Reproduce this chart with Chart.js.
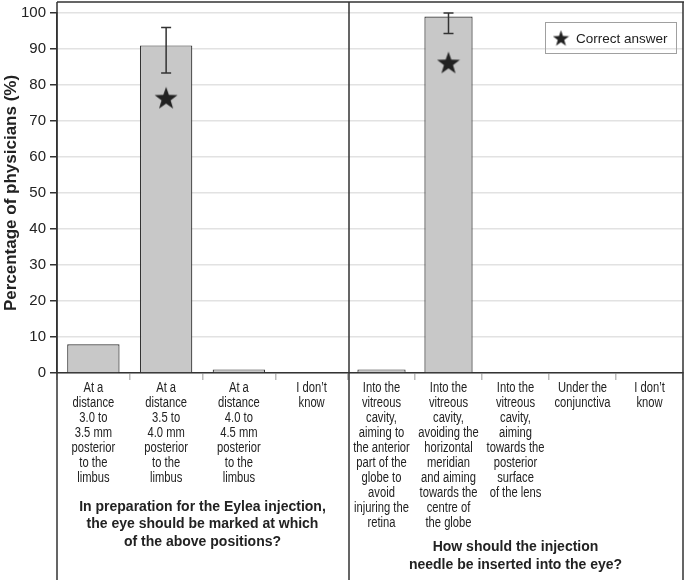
<!DOCTYPE html>
<html><head><meta charset="utf-8">
<script src="https://cdn.jsdelivr.net/npm/chart.js@4/dist/chart.umd.min.js"></script>
<style>html,body{margin:0;padding:0;background:#fff}#wrap{position:relative;width:685px;height:580px}canvas{position:absolute;top:0}</style>
</head><body>
<div id="wrap"><canvas id="a" width="348" height="580" style="left:0"></canvas><canvas id="b" width="337" height="580" style="left:348px"></canvas></div>
<script>
// ---- data ----
const catsLeft = [
  ["At a","distance","3.0 to","3.5 mm","posterior","to the","limbus"],
  ["At a","distance","3.5 to","4.0 mm","posterior","to the","limbus"],
  ["At a","distance","4.0 to","4.5 mm","posterior","to the","limbus"],
  ["I don\u2019t","know"]
];
const valuesLeft = [8, 91, 1, 0];
const errLowLeft = [null, 83.3, null, null];
const errHighLeft = [null, 96, null, null];
const starLeft = [null, 76.5, null, null];
const questionLeft = ["In preparation for the Eylea injection,","the eye should be marked at which","of the above positions?"];

const catsRight = [
  ["Into the","vitreous","cavity,","aiming to","the anterior","part of the","globe to","avoid","injuring the","retina"],
  ["Into the","vitreous","cavity,","avoiding the","horizontal","meridian","and aiming","towards the","centre of","the globe"],
  ["Into the","vitreous","cavity,","aiming","towards the","posterior","surface","of the lens"],
  ["Under the","conjunctiva"],
  ["I don\u2019t","know"]
];
const valuesRight = [1, 99, 0, 0, 0];
const errLowRight = [null, 94.3, null, null, null];
const errHighRight = [null, 100, null, null, null];
const starRight = [null, 86.3, null, null, null];
const questionRight = ["How should the injection","needle be inserted into the eye?"];

const yTicks = [0,10,20,30,40,50,60,70,80,90,100];
const yTitle = "Percentage of physicians (%)";
const legendLabel = "Correct answer";

// ---- styling ----
const DARK = '#333333', GRID = '#e2e2e2', TEXT = '#222222';
const SANS = '"Liberation Sans", Arial, sans-serif';
Chart.defaults.font.family = SANS;
Chart.defaults.color = TEXT;

function makeStar(size){
  const c = document.createElement('canvas'); c.width = size; c.height = size;
  const g = c.getContext('2d'); const cx = size/2, cy = size/2 + size*0.05;
  const R = size/2, r = R*0.4;
  g.beginPath();
  for(let i=0;i<10;i++){
    const ang = -Math.PI/2 + i*Math.PI/5; const rr = i%2===0?R:r;
    const x = cx + rr*Math.cos(ang), y = cy + rr*Math.sin(ang);
    i===0?g.moveTo(x,y):g.lineTo(x,y);
  }
  g.closePath(); g.fillStyle = '#222'; g.fill();
  return c;
}
const starImg = makeStar(24);
const starSmall = makeStar(17);

function panelPlugin(opts){
  return {
    id:'panel'+opts.id,
    afterDatasetsDraw(chart){
      const ctx = chart.ctx, y = chart.scales.y;
      const meta = chart.getDatasetMeta(0);
      ctx.save();
      ctx.strokeStyle = DARK; ctx.lineWidth = 1.5;
      opts.lo.forEach((lo,i)=>{
        if(lo==null) return;
        const x = meta.data[i].x, y1 = y.getPixelForValue(lo), y2 = y.getPixelForValue(opts.hi[i]);
        ctx.beginPath();
        ctx.moveTo(x,y1); ctx.lineTo(x,y2);
        ctx.moveTo(x-5,y1); ctx.lineTo(x+5,y1);
        ctx.moveTo(x-5,y2); ctx.lineTo(x+5,y2);
        ctx.stroke();
      });
      ctx.restore();
    },
    afterDraw(chart){
      const ctx = chart.ctx, ca = chart.chartArea, H = chart.height;
      const xs = chart.scales.x;
      ctx.save();
      ctx.strokeStyle = DARK; ctx.lineWidth = 1.5;
      ctx.beginPath();
      ctx.moveTo(opts.frameL, 2); ctx.lineTo(opts.frameR, 2);
      opts.verticals.forEach(v=>{ ctx.moveTo(v, 2); ctx.lineTo(v, H); });
      ctx.stroke();
      // category labels (condensed)
      ctx.fillStyle = TEXT; ctx.font = '14px ' + SANS;
      ctx.textAlign = 'center'; ctx.textBaseline = 'middle';
      chart.data.labels.forEach((lines, i)=>{
        const x = xs.getPixelForTick(i);
        lines.forEach((t, j)=>{
          ctx.save(); ctx.translate(x, ca.bottom + 15.5 + j*15); ctx.scale(0.8, 1);
          ctx.fillText(t, 0, 0); ctx.restore();
        });
      });
      // question text
      ctx.font = 'bold 14px ' + SANS;
      const cx = (ca.left + ca.right)/2;
      opts.question.forEach((t,i)=> ctx.fillText(t, cx, opts.qTop + i*opts.qStep));
      if(opts.legend){
        ctx.strokeStyle = '#a0a0a0'; ctx.lineWidth = 1;
        ctx.strokeRect(197.5, 22.5, 131, 31);
        ctx.drawImage(starSmall, 213 - 8.5, 38 - 8.5);
        ctx.font = '13.5px ' + SANS; ctx.textAlign = 'left';
        ctx.fillText(legendLabel, 228, 39);
      }
      ctx.restore();
    }
  };
}

function makeChart(el, cats, vals, stars, withYAxis, extraPad){
  return new Chart(document.getElementById(el), {
    data:{
      labels: cats,
      datasets:[
        {type:'bar', data: vals, backgroundColor:'#c8c8c8', borderColor: DARK, borderWidth:1.2,
         borderSkipped:'start', categoryPercentage:1, barPercentage:0.72, order:2},
        {type:'line', data: stars, showLine:false, pointStyle: starImg, pointRadius:12, order:1, clip:false}
      ]
    },
    options:{
      responsive:false, animation:false,
      layout:{autoPadding:false, padding:{top:13, left:0, right:extraPad, bottom:0}},
      plugins:{legend:{display:false}, tooltip:{enabled:false}},
      scales:{
        x:{
          grid:{drawOnChartArea:false, offset:true, tickLength:7, tickColor:'#bbbbbb', lineWidth:1.5},
          border:{display:true, color:DARK, width:1.5},
          ticks:{display:false, autoSkip:false, maxRotation:0, minRotation:0},
          afterFit(s){ s.height = 207; }
        },
        y:{
          min:0, max:100,
          afterBuildTicks(s){ s.ticks = yTicks.map(v=>({value:v})); },
          grid:{color: GRID, lineWidth:1.5, tickColor: DARK, tickLength: withYAxis?7:0, drawTicks: withYAxis},
          border:{display: withYAxis, color:DARK, width:1.5},
          ticks:{display: withYAxis, padding:4, color:TEXT, font:{size:15}},
          title:{display: withYAxis, text: yTitle, color:TEXT, font:{size:17, weight:'bold'}, padding:{top:1,bottom:0}},
          afterFit(s){ s.width = withYAxis ? 57 : 0; }
        }
      }
    },
    plugins: [panelPlugin(withYAxis ? {
      id:'A', lo:errLowLeft, hi:errHighLeft, frameL:57, frameR:348, verticals:[57],
      question:questionLeft, qTop:507, qStep:17.5, legend:false
    } : {
      id:'B', lo:errLowRight, hi:errHighRight, frameL:0, frameR:336, verticals:[1, 335],
      question:questionRight, qTop:547, qStep:18.5, legend:true
    })]
  });
}
makeChart('a', catsLeft, valuesLeft, starLeft, true, 0);
makeChart('b', catsRight, valuesRight, starRight, false, 2);
</script>
</body></html>
